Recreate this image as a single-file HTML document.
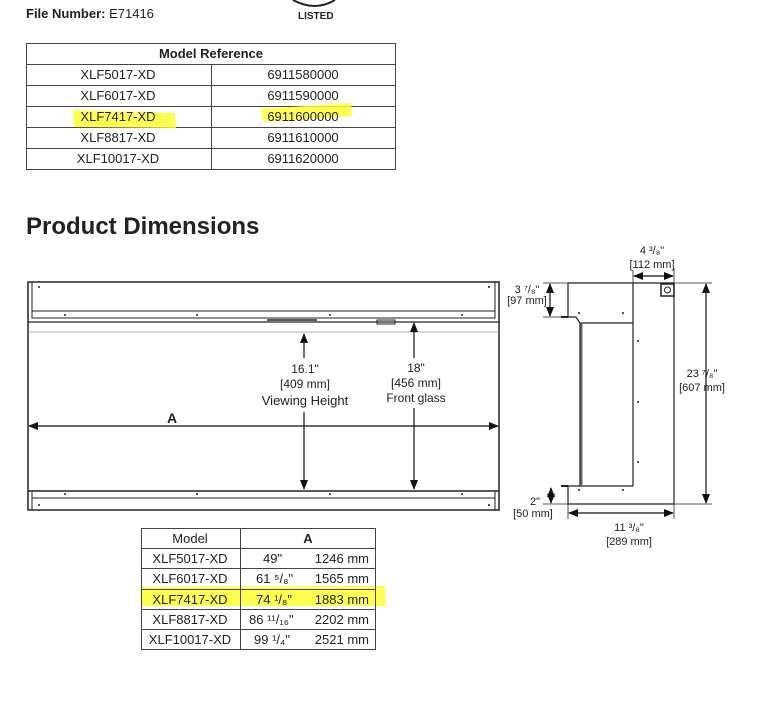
<!DOCTYPE html>
<html><head><style>
body{margin:0;background:#fff;}
svg{display:block;font-family:"Liberation Sans",sans-serif;}
</style></head><body>
<svg width="757" height="709" viewBox="0 0 757 709" xmlns="http://www.w3.org/2000/svg">
<defs>
<marker id="ar" markerWidth="10" markerHeight="10" refX="9" refY="4" orient="auto-start-reverse" markerUnits="userSpaceOnUse"><path d="M0,0 L10,4 L0,8 Z" fill="#111"/></marker>
</defs>
<text x="26" y="18" font-size="13" fill="#222"><tspan font-weight="bold">File Number:</tspan> E71416</text>
<text x="298" y="19" font-size="10" font-weight="bold" fill="#222">LISTED</text>
<path d="M293,0 Q315,12 335,0" fill="none" stroke="#222" stroke-width="2"/>
<g stroke="#444" stroke-width="1" fill="none">
<rect x="26.5" y="43.5" width="369" height="126"/>
<line x1="26" y1="64.5" x2="395" y2="64.5"/>
<line x1="26" y1="85.5" x2="395" y2="85.5"/>
<line x1="26" y1="106.5" x2="395" y2="106.5"/>
<line x1="26" y1="127.5" x2="395" y2="127.5"/>
<line x1="26" y1="148.5" x2="395" y2="148.5"/>
<line x1="211.5" y1="64" x2="211.5" y2="169"/>
</g>
<path d="M73,110 L175,113 L176,128 L74,127 Z" fill="#ffff30" opacity="0.85"/>
<path d="M260,109 L351,103 L352,116 L264,122 Z" fill="#ffff30" opacity="0.85"/>
<g font-size="13" fill="#222" text-anchor="middle">
<text x="211" y="58" font-weight="bold">Model Reference</text>
<text x="118" y="79">XLF5017-XD</text><text x="303" y="79">6911580000</text>
<text x="118" y="100">XLF6017-XD</text><text x="303" y="100">6911590000</text>
<text x="118" y="121">XLF7417-XD</text><text x="303" y="121">6911600000</text>
<text x="118" y="142">XLF8817-XD</text><text x="303" y="142">6911610000</text>
<text x="118" y="163">XLF10017-XD</text><text x="303" y="163">6911620000</text>
</g>
<text x="26" y="234" font-size="24" font-weight="bold" fill="#222">Product Dimensions</text>
<g stroke="#222" fill="none">
<rect x="28" y="282" width="471" height="228" stroke-width="1.5"/>
<line x1="32" y1="282" x2="32" y2="311" stroke-width="1"/>
<line x1="495" y1="282" x2="495" y2="311" stroke-width="1"/>
<rect x="32" y="311" width="463" height="7" stroke-width="1"/>
<line x1="28" y1="322" x2="499" y2="322" stroke-width="1.2"/>
<line x1="28" y1="332" x2="499" y2="332" stroke="#999" stroke-width="0.8"/>
<rect x="377" y="320" width="18" height="4" stroke-width="1"/>
<line x1="267" y1="320" x2="317" y2="320" stroke-width="1.5"/>
<line x1="28" y1="491" x2="499" y2="491" stroke-width="1.5"/>
<rect x="32" y="491" width="463" height="7" stroke-width="1"/>
<line x1="32" y1="498" x2="32" y2="510" stroke-width="1"/>
<line x1="495" y1="498" x2="495" y2="510" stroke-width="1"/>
</g>
<g fill="#222">
<circle cx="39" cy="287" r="1"/><circle cx="489" cy="287" r="1"/>
<circle cx="65" cy="315" r="1"/><circle cx="197" cy="315" r="1"/><circle cx="330" cy="315" r="1"/><circle cx="462" cy="315" r="1"/>
<circle cx="65" cy="494" r="1"/><circle cx="197" cy="494" r="1"/><circle cx="330" cy="494" r="1"/><circle cx="462" cy="494" r="1"/>
<circle cx="39" cy="505" r="1"/><circle cx="489" cy="505" r="1"/>
</g>
<g stroke="#111" stroke-width="1.2" fill="none">
<line x1="304" y1="334" x2="304" y2="358" marker-start="url(#ar)"/>
<line x1="304" y1="412" x2="304" y2="489" marker-end="url(#ar)"/>
<line x1="414" y1="323" x2="414" y2="358" marker-start="url(#ar)"/>
<line x1="414" y1="408" x2="414" y2="489" marker-end="url(#ar)"/>
<line x1="29" y1="426" x2="498" y2="426" marker-start="url(#ar)" marker-end="url(#ar)"/>
</g>
<g font-size="12" fill="#222" text-anchor="middle">
<text x="305" y="373">16.1"</text>
<text x="305" y="388">[409 mm]</text>
<text x="305" y="405" font-size="13">Viewing Height</text>
<text x="416" y="372">18"</text>
<text x="416" y="387">[456 mm]</text>
<text x="416" y="402">Front glass</text>
<text x="172" y="423" font-size="14" font-weight="bold">A</text>
</g>
<g stroke="#222" fill="none" stroke-width="1.2">
<path d="M568,283 L674,283 L674,504 L568,504 L568,486 L580,486 L580,323 L633,323"/>
<path d="M568,283 L568,317 L576,317 L580,323"/>
<line x1="633" y1="283" x2="633" y2="486"/>
<line x1="580" y1="486" x2="633" y2="486"/>
<line x1="561" y1="317" x2="568" y2="317" stroke-width="2"/>
<line x1="561" y1="486" x2="568" y2="486" stroke-width="2"/>
<line x1="581.5" y1="323" x2="581.5" y2="486" stroke="#666" stroke-width="2"/>
<rect x="661" y="284" width="13" height="12" stroke-width="1.5"/>
<circle cx="667.5" cy="290" r="3" stroke-width="1"/>
<line x1="543" y1="283" x2="568" y2="283" stroke-width="0.8"/>
<line x1="543" y1="317" x2="561" y2="317" stroke-width="0.8"/>
<line x1="543" y1="504" x2="568" y2="504" stroke-width="0.8"/>
<line x1="674" y1="283" x2="712" y2="283" stroke-width="0.8"/>
<line x1="674" y1="504" x2="712" y2="504" stroke-width="0.8"/>
<line x1="633" y1="270" x2="633" y2="283" stroke-width="0.8"/>
<line x1="674" y1="268" x2="674" y2="283" stroke-width="0.8"/>
<line x1="568" y1="504" x2="568" y2="519" stroke-width="0.8"/>
<line x1="674" y1="504" x2="674" y2="519" stroke-width="0.8"/>
</g>
<g fill="#222">
<circle cx="579" cy="313" r="1"/><circle cx="623" cy="313" r="1"/>
<circle cx="638" cy="341" r="1"/><circle cx="638" cy="402" r="1"/><circle cx="638" cy="462" r="1"/>
<circle cx="579" cy="490" r="1"/><circle cx="623" cy="490" r="1"/>
</g>
<g stroke="#111" stroke-width="1.2" fill="none">
<line x1="706" y1="284" x2="706" y2="503" marker-start="url(#ar)" marker-end="url(#ar)"/>
<line x1="634" y1="276" x2="673" y2="276" marker-start="url(#ar)" marker-end="url(#ar)"/>
<line x1="550" y1="284" x2="550" y2="316" marker-start="url(#ar)" marker-end="url(#ar)"/>
<line x1="551" y1="488" x2="551" y2="503" marker-start="url(#ar)" marker-end="url(#ar)"/>
<line x1="569" y1="513" x2="673" y2="513" marker-start="url(#ar)" marker-end="url(#ar)"/>
</g>
<g font-size="11" fill="#222" text-anchor="middle">
<text x="652" y="254">4 ³/₈"</text>
<text x="652" y="268">[112 mm]</text>
<text x="527" y="293">3 ⁷/₈"</text>
<text x="527" y="304">[97 mm]</text>
<text x="702" y="377">23 ⁷/₈"</text>
<text x="702" y="391">[607 mm]</text>
<text x="535" y="505">2"</text>
<text x="533" y="517">[50 mm]</text>
<text x="629" y="531">11 ³/₈"</text>
<text x="629" y="545">[289 mm]</text>
</g>
<path d="M140,587 L385,586 L386,606 L141,606 Z" fill="#ffff30" opacity="0.85"/>
<g stroke="#444" stroke-width="1" fill="none">
<rect x="141.5" y="528.5" width="234" height="121"/>
<line x1="141" y1="548.5" x2="376" y2="548.5"/>
<line x1="141" y1="568.5" x2="376" y2="568.5"/>
<line x1="141" y1="589.5" x2="376" y2="589.5"/>
<line x1="141" y1="609.5" x2="376" y2="609.5"/>
<line x1="141" y1="629.5" x2="376" y2="629.5"/>
<line x1="240.5" y1="528" x2="240.5" y2="649"/>
</g>
<g font-size="13" fill="#222">
<text x="190" y="543" text-anchor="middle">Model</text>
<text x="308" y="543" text-anchor="middle" font-weight="bold">A</text>
<g text-anchor="middle">
<text x="190" y="563">XLF5017-XD</text>
<text x="190" y="583">XLF6017-XD</text>
<text x="190" y="604">XLF7417-XD</text>
<text x="190" y="624">XLF8817-XD</text>
<text x="190" y="644">XLF10017-XD</text>
</g>
<text x="263" y="563">49"</text>
<text x="256" y="583">61 ⁵/₈"</text>
<text x="256" y="604">74 ¹/₈"</text>
<text x="249" y="624">86 ¹¹/₁₆"</text>
<text x="254" y="644">99 ¹/₄"</text>
<g text-anchor="end">
<text x="369" y="563">1246 mm</text>
<text x="369" y="583">1565 mm</text>
<text x="369" y="604">1883 mm</text>
<text x="369" y="624">2202 mm</text>
<text x="369" y="644">2521 mm</text>
</g>
</g>
</svg>
</body></html>
